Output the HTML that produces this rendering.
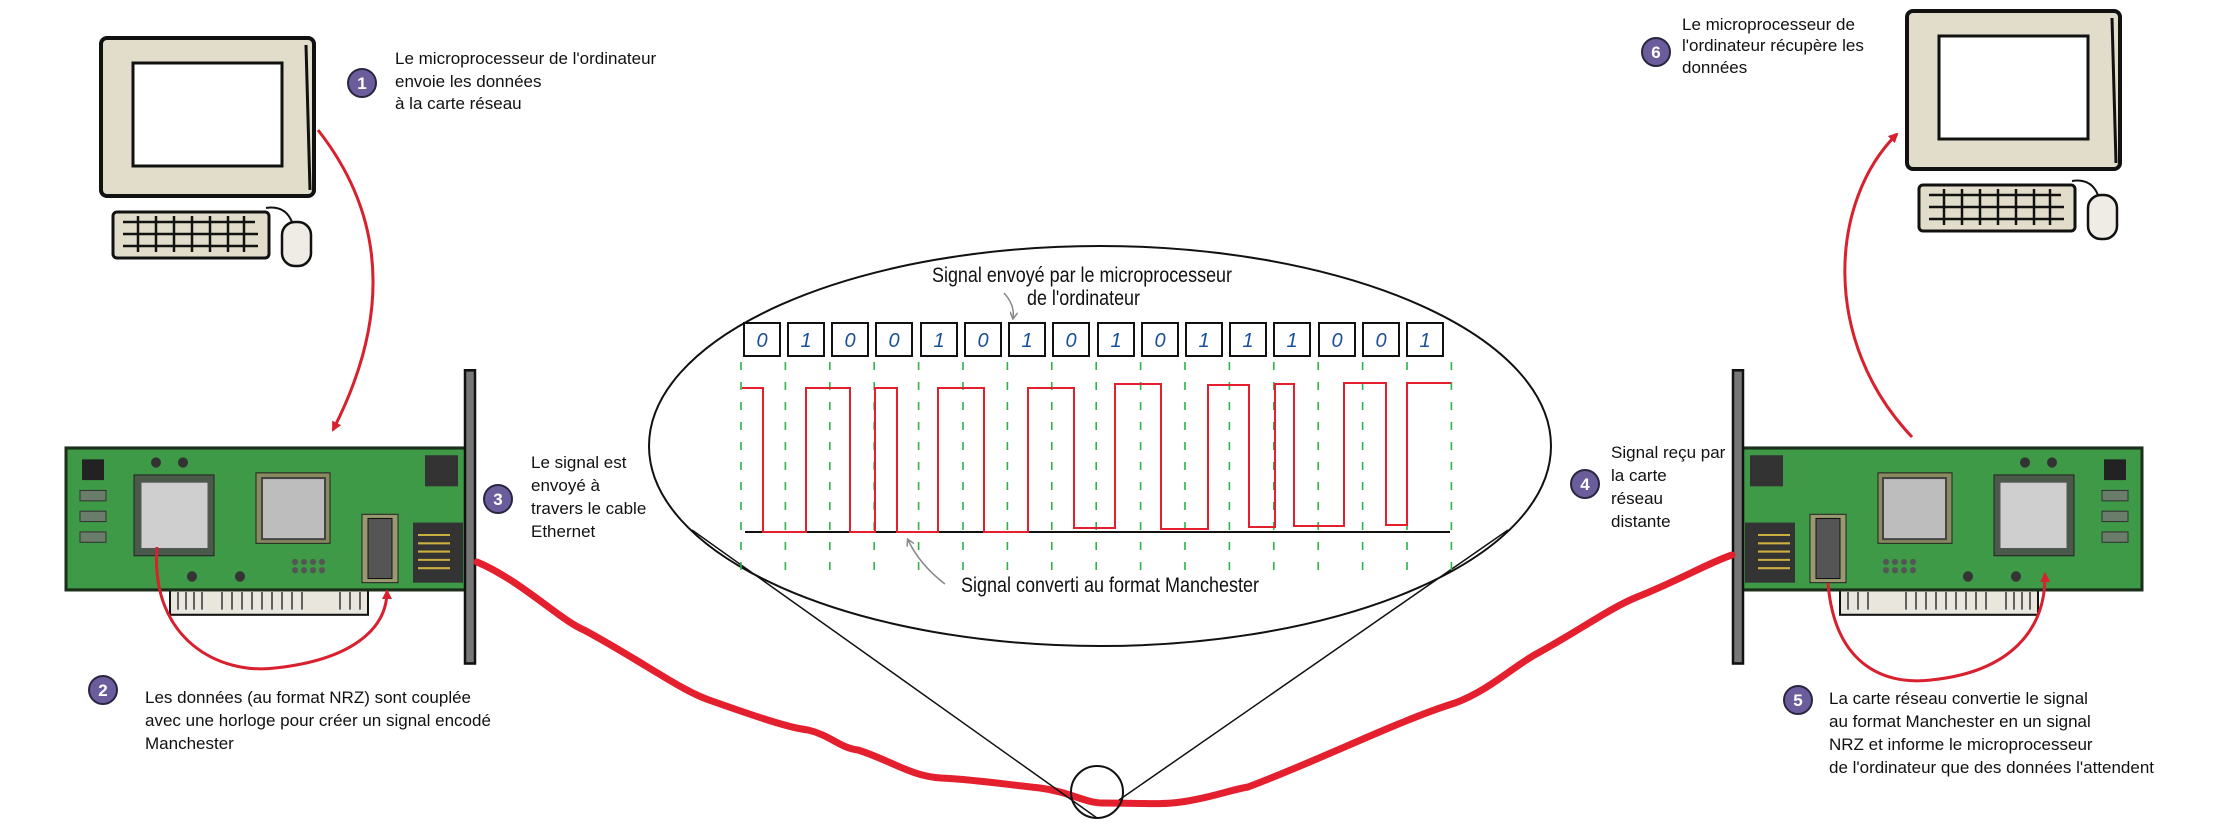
<!DOCTYPE html>
<html><head><meta charset="utf-8"><style>
html,body{margin:0;padding:0;background:#fff}
svg{display:block}
text{font-family:"Liberation Sans",sans-serif;}
</style></head><body>
<svg width="2227" height="840" viewBox="0 0 2227 840" xmlns="http://www.w3.org/2000/svg">
<defs>
<marker id="ah" markerWidth="10" markerHeight="10" refX="8" refY="5" orient="auto" markerUnits="userSpaceOnUse" viewBox="0 0 10 10"><path d="M0,0 L10,5 L0,10 Z" fill="#d8202e"/></marker>
<marker id="ga" markerWidth="8" markerHeight="8" refX="6" refY="4" orient="auto" markerUnits="userSpaceOnUse" viewBox="0 0 8 8"><path d="M0,0 L7,4 L0,8" fill="none" stroke="#888" stroke-width="1.5"/></marker>
<g id="mon">
 <rect x="101" y="38" width="213" height="158" rx="6" fill="#e2ddcb" stroke="#111" stroke-width="4"/>
 <rect x="133" y="63" width="149" height="103" fill="#fff" stroke="#111" stroke-width="3"/>
 <path d="M306,45 L310,190" stroke="#111" stroke-width="3"/>
 <rect x="113" y="212" width="156" height="46" rx="4" fill="#e2ddcb" stroke="#111" stroke-width="3"/>
 <g stroke="#111" stroke-width="2.5">
  <line x1="123" y1="222" x2="255" y2="222"/><line x1="123" y1="234" x2="258" y2="234"/><line x1="123" y1="246" x2="258" y2="246"/>
  <line x1="138" y1="216" x2="138" y2="252"/><line x1="156" y1="216" x2="156" y2="252"/><line x1="174" y1="216" x2="174" y2="252"/><line x1="192" y1="216" x2="192" y2="252"/><line x1="210" y1="216" x2="210" y2="252"/><line x1="228" y1="216" x2="228" y2="252"/><line x1="244" y1="216" x2="244" y2="252"/>
 </g>
 <path d="M266,208 Q285,205 292,222" fill="none" stroke="#111" stroke-width="2"/>
 <rect x="282" y="222" width="29" height="44" rx="13" fill="#eeece4" stroke="#111" stroke-width="2.5"/>
</g>
<g id="card">
 <rect x="170" y="570" width="198" height="27" fill="#e8e6dd" stroke="#111" stroke-width="2"/>
 <g stroke="#333" stroke-width="1.5"><line x1="178" y1="575" x2="178" y2="592"/><line x1="186" y1="575" x2="186" y2="592"/><line x1="194" y1="575" x2="194" y2="592"/><line x1="202" y1="575" x2="202" y2="592"/><line x1="222" y1="575" x2="222" y2="592"/><line x1="232" y1="575" x2="232" y2="592"/><line x1="242" y1="575" x2="242" y2="592"/><line x1="252" y1="575" x2="252" y2="592"/><line x1="262" y1="575" x2="262" y2="592"/><line x1="272" y1="575" x2="272" y2="592"/><line x1="282" y1="575" x2="282" y2="592"/><line x1="292" y1="575" x2="292" y2="592"/><line x1="302" y1="575" x2="302" y2="592"/><line x1="340" y1="575" x2="340" y2="592"/><line x1="350" y1="575" x2="350" y2="592"/><line x1="360" y1="575" x2="360" y2="592"/></g>
 <rect x="66" y="436" width="403" height="137" fill="#3f9a48" stroke="#1b2f1b" stroke-width="3"/>
 <rect x="82" y="447" width="22" height="20" fill="#222"/>
 <rect x="80" y="477" width="26" height="10" fill="#6a7d6a" stroke="#333"/><rect x="80" y="497" width="26" height="10" fill="#6a7d6a" stroke="#333"/><rect x="80" y="517" width="26" height="10" fill="#6a7d6a" stroke="#333"/>
 <rect x="134" y="462" width="80" height="78" fill="#4a5a4a" stroke="#222"/>
 <rect x="141" y="469" width="67" height="64" fill="#cfcfcf" stroke="#555"/>
 <rect x="256" y="460" width="74" height="68" fill="#8a8a60" stroke="#222"/>
 <rect x="262" y="465" width="63" height="59" fill="#bdbdbd" stroke="#444" stroke-width="2"/>
 <rect x="362" y="500" width="36" height="66" fill="#9a9a70" stroke="#222"/>
 <rect x="368" y="504" width="24" height="58" fill="#555" stroke="#111"/>
 <rect x="413" y="508" width="50" height="58" fill="#333"/>
 <g stroke="#c9b040" stroke-width="2"><line x1="418" y1="520" x2="450" y2="520"/><line x1="418" y1="528" x2="450" y2="528"/><line x1="418" y1="536" x2="450" y2="536"/><line x1="418" y1="544" x2="450" y2="544"/><line x1="418" y1="552" x2="450" y2="552"/></g>
 <rect x="425" y="443" width="33" height="30" fill="#333"/>
 <circle cx="156" cy="450" r="5" fill="#333"/><circle cx="183" cy="450" r="5" fill="#333"/><circle cx="192" cy="560" r="5" fill="#333"/><circle cx="240" cy="560" r="5" fill="#333"/>
 <g fill="#555"><circle cx="295" cy="546" r="3"/><circle cx="304" cy="546" r="3"/><circle cx="313" cy="546" r="3"/><circle cx="322" cy="546" r="3"/><circle cx="295" cy="554" r="3"/><circle cx="304" cy="554" r="3"/><circle cx="313" cy="554" r="3"/><circle cx="322" cy="554" r="3"/></g>
 <rect x="465" y="361" width="10" height="283" fill="#777" stroke="#111" stroke-width="2.5"/>
</g>
</defs>

<use href="#mon"/>
<use href="#mon" transform="translate(1806,-27) scale(1,1.0)"/>
<use href="#card" transform="translate(0,-3.7) scale(1,1.036)"/>
<use href="#card" transform="translate(2208,-3.7) scale(-1,1.036)"/>

<!-- red arrows -->
<path d="M318,130 Q420,260 333,430" fill="none" stroke="#d8202e" stroke-width="3" marker-end="url(#ah)"/>
<path d="M157,547 C150,640 220,675 275,668 C350,660 387,630 387,591" fill="none" stroke="#d8202e" stroke-width="3" marker-end="url(#ah)"/>
<path d="M1912,437 C1820,340 1830,200 1897,134" fill="none" stroke="#d8202e" stroke-width="3" marker-end="url(#ah)"/>
<path d="M1828,583 C1835,670 1890,685 1931,680 C2010,672 2046,630 2045,574" fill="none" stroke="#d8202e" stroke-width="3" marker-end="url(#ah)"/>

<!-- cable -->
<path d="M477,562 C520,580 560,620 584,630 C640,660 680,690 709,700 C760,718 790,728 808,730 C830,735 840,748 858,750 C890,760 910,776 941,778 C980,780 1010,785 1040,788 C1070,792 1085,803 1103,803 C1140,803 1160,805 1181,802 C1210,798 1230,790 1248,787 C1320,760 1400,720 1455,703 C1490,690 1515,665 1538,653 C1580,630 1610,608 1637,597 C1680,580 1710,562 1732,555" fill="none" stroke="#e5202e" stroke-width="7" stroke-linecap="round"/>

<!-- ellipse and magnifier lines -->
<ellipse cx="1100" cy="446" rx="451" ry="200" fill="none" stroke="#111" stroke-width="2"/>
<line x1="692" y1="530" x2="1097" y2="818" stroke="#111" stroke-width="1.5"/>
<line x1="1508" y1="530" x2="1119" y2="800" stroke="#111" stroke-width="1.5"/>
<ellipse cx="1097" cy="792" rx="26" ry="26" fill="none" stroke="#111" stroke-width="2"/>

<!-- dashed grid -->
<g stroke="#2db34a" stroke-width="1.6" stroke-dasharray="8,12">
<line x1="741" y1="362" x2="741" y2="571"/><line x1="785.4" y1="362" x2="785.4" y2="571"/><line x1="829.8" y1="362" x2="829.8" y2="571"/><line x1="874.2" y1="362" x2="874.2" y2="571"/><line x1="918.6" y1="362" x2="918.6" y2="571"/><line x1="963" y1="362" x2="963" y2="571"/><line x1="1007.4" y1="362" x2="1007.4" y2="571"/><line x1="1051.8" y1="362" x2="1051.8" y2="571"/><line x1="1096.2" y1="362" x2="1096.2" y2="571"/><line x1="1140.6" y1="362" x2="1140.6" y2="571"/><line x1="1185" y1="362" x2="1185" y2="571"/><line x1="1229.4" y1="362" x2="1229.4" y2="571"/><line x1="1273.8" y1="362" x2="1273.8" y2="571"/><line x1="1318.2" y1="362" x2="1318.2" y2="571"/><line x1="1362.6" y1="362" x2="1362.6" y2="571"/><line x1="1407" y1="362" x2="1407" y2="571"/><line x1="1451.4" y1="362" x2="1451.4" y2="571"/>
</g>

<!-- bits -->
<g fill="#fff" stroke="#111" stroke-width="2">
<rect x="744" y="323" width="36" height="33"/><rect x="788" y="323" width="36" height="33"/><rect x="832" y="323" width="36" height="33"/><rect x="876" y="323" width="36" height="33"/><rect x="921" y="323" width="36" height="33"/><rect x="965" y="323" width="36" height="33"/><rect x="1009" y="323" width="36" height="33"/><rect x="1053" y="323" width="36" height="33"/><rect x="1098" y="323" width="36" height="33"/><rect x="1142" y="323" width="36" height="33"/><rect x="1186" y="323" width="36" height="33"/><rect x="1230" y="323" width="36" height="33"/><rect x="1274" y="323" width="36" height="33"/><rect x="1319" y="323" width="36" height="33"/><rect x="1363" y="323" width="36" height="33"/><rect x="1407" y="323" width="36" height="33"/>
</g>
<g fill="#1a4f9a" font-size="20" font-style="italic" text-anchor="middle">
<text x="762" y="347">0</text><text x="806" y="347">1</text><text x="850" y="347">0</text><text x="894" y="347">0</text><text x="939" y="347">1</text><text x="983" y="347">0</text><text x="1027" y="347">1</text><text x="1071" y="347">0</text><text x="1116" y="347">1</text><text x="1160" y="347">0</text><text x="1204" y="347">1</text><text x="1248" y="347">1</text><text x="1292" y="347">1</text><text x="1337" y="347">0</text><text x="1381" y="347">0</text><text x="1425" y="347">1</text>
</g>

<!-- waveform -->
<line x1="745" y1="532" x2="1450" y2="532" stroke="#111" stroke-width="2"/>
<polyline points="742,388 763,388 763,532 806,532 806,388 850,388 850,532 875,532 875,388 897,388 897,532 938,532 938,388 984,388 984,532 1028,532 1028,388 1074,388 1074,528 1115,528 1115,384 1161,384 1161,529 1208,529 1208,385 1249,385 1249,527 1275,527 1275,384 1294,384 1294,526 1344,526 1344,383 1386,383 1386,525 1407,525 1407,383 1451,383" fill="none" stroke="#e5202e" stroke-width="2"/>

<!-- ellipse labels -->
<g font-size="21" fill="#111">
<text x="932" y="282" textLength="300" lengthAdjust="spacingAndGlyphs">Signal envoyé par le microprocesseur</text>
<text x="1027" y="305" textLength="113" lengthAdjust="spacingAndGlyphs">de l'ordinateur</text>
<text x="961" y="592" textLength="298" lengthAdjust="spacingAndGlyphs">Signal converti au format Manchester</text>
</g>
<path d="M1004,293 Q1015,305 1013,318" fill="none" stroke="#888" stroke-width="1.5" marker-end="url(#ga)"/>
<path d="M945,584 Q920,565 908,540" fill="none" stroke="#888" stroke-width="1.5" marker-end="url(#ga)"/>

<!-- badges -->
<g font-size="17" font-weight="bold" fill="#fff" text-anchor="middle">
<circle cx="362" cy="83" r="14" fill="#6b5d9c" stroke="#2a2540" stroke-width="2"/><text x="362" y="89">1</text>
<circle cx="103" cy="690" r="14" fill="#6b5d9c" stroke="#2a2540" stroke-width="2"/><text x="103" y="696">2</text>
<circle cx="498" cy="499" r="14" fill="#6b5d9c" stroke="#2a2540" stroke-width="2"/><text x="498" y="505">3</text>
<circle cx="1585" cy="484" r="14" fill="#6b5d9c" stroke="#2a2540" stroke-width="2"/><text x="1585" y="490">4</text>
<circle cx="1798" cy="700" r="14" fill="#6b5d9c" stroke="#2a2540" stroke-width="2"/><text x="1798" y="706">5</text>
<circle cx="1656" cy="52" r="14" fill="#6b5d9c" stroke="#2a2540" stroke-width="2"/><text x="1656" y="58">6</text>
</g>

<!-- texts -->
<g font-size="17" fill="#111">
<text x="395" y="64">Le microprocesseur de l'ordinateur</text>
<text x="395" y="87">envoie les données</text>
<text x="395" y="109">à la carte réseau</text>
<text x="531" y="468">Le signal est</text>
<text x="531" y="491">envoyé à</text>
<text x="531" y="514">travers le cable</text>
<text x="531" y="537">Ethernet</text>
<text x="145" y="703">Les données (au format NRZ) sont couplée</text>
<text x="145" y="726">avec une horloge pour créer un signal encodé</text>
<text x="145" y="749">Manchester</text>
<text x="1611" y="458">Signal reçu par</text>
<text x="1611" y="481">la carte</text>
<text x="1611" y="504">réseau</text>
<text x="1611" y="527">distante</text>
<text x="1682" y="30">Le microprocesseur de</text>
<text x="1682" y="51">l'ordinateur récupère les</text>
<text x="1682" y="73">données</text>
<text x="1829" y="704">La carte réseau convertie le signal</text>
<text x="1829" y="727">au format Manchester en un signal</text>
<text x="1829" y="750">NRZ et informe le microprocesseur</text>
<text x="1829" y="773">de l'ordinateur que des données l'attendent</text>
</g>
</svg>
</body></html>
